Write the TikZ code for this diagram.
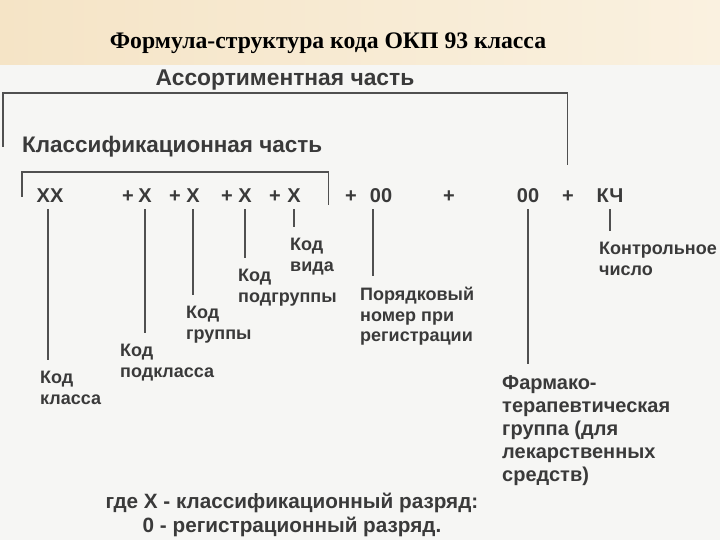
\documentclass[tikz,border=0pt]{standalone}
\usepackage{fontspec}
\setmainfont{Liberation Sans}
\newfontfamily\titlefont{Liberation Serif}
\definecolor{ink}{HTML}{3A3A3A}
\definecolor{rule}{HTML}{505050}
\definecolor{paper}{HTML}{F6F6F4}
\definecolor{bandL}{HTML}{F5E4C6}
\definecolor{bandR}{HTML}{FAF1E0}
\begin{document}
\begin{tikzpicture}[x=1pt,y=-1pt,
  lbl/.style={font=\bfseries\fontsize{18}{20.5}\selectfont, text=ink, align=left, inner sep=0pt, anchor=north west},
  code/.style={font=\bfseries\fontsize{20}{22}\selectfont, text=ink, inner sep=0pt, anchor=base},
  head/.style={text=ink, inner sep=0pt},
  wire/.style={draw=rule, line width=1.2pt},
  tick/.style={wire, shorten <=6pt, shorten >=11pt}]
\useasboundingbox (0,0) rectangle (720,540);
\fill[paper] (0,0) rectangle (720,540);
\shade[left color=bandL, right color=bandR] (0,0) rectangle (720,65);
% title
\node[font=\titlefont\bfseries\fontsize{23.7}{26}\selectfont, inner sep=0pt, anchor=base] (title) at (328,49) {Формула-структура кода ОКП 93 класса};
% headers
\node[head, anchor=base, font=\bfseries\fontsize{22.8}{24}\selectfont] (assort) at (285,86) {Ассортиментная часть};
\node[head, anchor=base west, font=\bfseries\fontsize{22.5}{24}\selectfont] (classif) at (22,153) {Классификационная часть};
% brackets
\coordinate (aL) at (3,147);
\coordinate (aTL) at (3,93);
\coordinate (aTR) at (567.5,93);
\coordinate (aR) at (567.5,165);
\draw[wire] (aL) -- (aTL) -- (aTR) -- (aR);
\coordinate (cL) at (22,197);
\coordinate (cTL) at (22,172);
\coordinate (cTR) at (328.5,172);
\coordinate (cR) at (328.5,205);
\draw[wire] (cL) -- (cTL) -- (cTR) -- (cR);
% code row
\node[code] (xx) at (50,203) {XX};
\node[code] (p1) at (128,203) {+};
\node[code] (x1) at (145,203) {X};
\node[code] (p2) at (175,203) {+};
\node[code] (x2) at (193,203) {X};
\node[code] (p3) at (227,203) {+};
\node[code] (x3) at (245,203) {X};
\node[code] (p4) at (275,203) {+};
\node[code] (x4) at (294,203) {X};
\node[code] (p5) at (351,203) {+};
\node[code] (o1) at (381,203) {00};
\node[code] (p6) at (449,203) {+};
\node[code] (o2) at (528,203) {00};
\node[code] (p7) at (568,203) {+};
\node[code] (kch) at (610,203) {КЧ};
% labels
\node[lbl] (lvid) at (290,238) {Код\\вида};
\node[lbl] (lpodgr) at (238,269) {Код\\подгруппы};
\node[lbl] (lgr) at (186,306) {Код\\группы};
\node[lbl] (lpodkl) at (120,344) {Код\\подкласса};
\node[lbl] (lkl) at (40,371) {Код\\класса};
\node[lbl] (lnum) at (360,287) {Порядковый\\номер при\\регистрации};
\node[lbl] (lkch) at (599,242) {Контрольное\\число};
\node[lbl, font=\bfseries\fontsize{20}{23}\selectfont] (lfarm) at (502,375) {Фармако-\\терапевтическая\\группа (для\\лекарственных\\средств)};
% connectors
\draw[tick] ([xshift=-2pt]xx.south) -- ([xshift=-2pt]xx.south |- lkl.north);
\draw[tick] (x1.south) -- (x1.south |- lpodkl.north);
\draw[tick] (x2.south) -- (x2.south |- lgr.north);
\draw[tick] (x3.south) -- (x3.south |- lpodgr.north);
\draw[tick] (x4.south) -- (x4.south |- lvid.north);
\draw[tick] ([xshift=-8pt]o1.south) -- ([xshift=-8pt]o1.south |- lnum.north);
\draw[tick] (o2.south) -- (o2.south |- lfarm.north);
\draw[tick] (kch.south) -- (kch.south |- lkch.north);
% footer
\node[lbl, align=center, anchor=north, font=\bfseries\fontsize{20.7}{24}\selectfont] (foot) at (292,493) {где X - классификационный разряд:\\0 - регистрационный разряд.};
\end{tikzpicture}
\end{document}
